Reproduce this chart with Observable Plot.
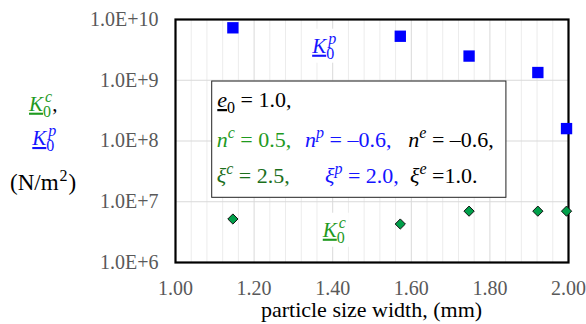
<!DOCTYPE html>
<html><head><meta charset="utf-8">
<script src="https://cdn.jsdelivr.net/npm/d3@7"></script>
<script src="https://cdn.jsdelivr.net/npm/@observablehq/plot@0.6"></script>
<style>
body{margin:0;background:#fff;}
</style></head><body><div id="chart"></div>
<script>
// ---- data ----
const widths = [1.146, 1.572, 1.747, 1.922, 1.995];          // particle size width (mm)
const K0p = [7.3e9, 5.3e9, 2.5e9, 1.34e9, 1.6e8];            // N/m^2 (blue squares)
const K0c = [5.2e6, 4.3e6, 7.0e6, 7.0e6, 7.0e6];             // N/m^2 (green diamonds)
const xTicks = [1.0, 1.2, 1.4, 1.6, 1.8, 2.0];
const xMinor = [1.04,1.08,1.12,1.16,1.24,1.28,1.32,1.36,1.44,1.48,1.52,1.56,1.64,1.68,1.72,1.76,1.84,1.88,1.92,1.96];
const yTicks = [1e6, 1e7, 1e8, 1e9, 1e10];
const yTickLabels = ["1.0E+6", "1.0E+7", "1.0E+8", "1.0E+9", "1.0E+10"];
// annotation anchors (data coordinates)
const boxPos = {x1: 1.0934, x2: 1.842, y1: 10 ** 7.065, y2: 10 ** 8.979};
const labelP = {x: 1.349, y: 10 ** 9.445};
const labelC = {x: 1.376, y: 10 ** 6.416};

const pData = widths.map((w, i) => ({w, v: K0p[i]}));
const cData = widths.map((w, i) => ({w, v: K0c[i]}));

const GREEN = "#1f9a1f", GREEN2 = "#1c6f1c", BLUE = "#1414ff";
const SERIF = "Liberation Serif";

const plot = Plot.plot({
  width: 586, height: 324,
  marginLeft: 175, marginRight: 18, marginTop: 19, marginBottom: 62,
  style: {fontSize: "20px", color: "#595959", background: "white"},
  x: {domain: [1, 2]},
  y: {type: "log", domain: [1e6, 1e10]},
  marks: [
    Plot.ruleX(xMinor, {stroke: "#ececec", strokeWidth: 1}),
    Plot.ruleX(xTicks.slice(1, -1), {stroke: "#d9d9d9", strokeWidth: 1}),
    Plot.ruleY(yTicks.slice(1, -1), {stroke: "#d9d9d9", strokeWidth: 1}),
    Plot.rect([boxPos], {x1: "x1", x2: "x2", y1: "y1", y2: "y2", fill: "white", stroke: "#222", strokeWidth: 1}),
    Plot.axisX({ticks: xTicks, tickFormat: d => d.toFixed(2), tickSize: 0, tickPadding: 18, label: null, fontFamily: SERIF}),
    Plot.axisY({ticks: yTicks, tickFormat: d => yTickLabels[yTicks.indexOf(d)], tickSize: 0, tickPadding: 17, label: null, fontFamily: SERIF}),
    Plot.frame({stroke: "black", strokeWidth: 2.2}),
    Plot.dot(pData, {x: "w", y: "v", symbol: "square", r: 6.4, fill: "#0000ff", stroke: "none"}),
    Plot.dot(cData, {x: "w", y: "v", symbol: "diamond2", r: 4.6, fill: "#00a04a", stroke: "#111", strokeWidth: 1})
  ]
});
document.getElementById("chart").appendChild(plot);
d3.select(plot).selectAll("text").attr("font-family", SERIF).style("font-family", SERIF);
d3.select(plot).attr("font-family", SERIF);

const sx = plot.scale("x"), sy = plot.scale("y");
const svg = d3.select(plot);
const ann = svg.append("g").attr("font-family", SERIF);

function rich(parent, x, y, parts, opts = {}) {
  const t = parent.append("text").attr("x", x).attr("y", y)
    .attr("font-family", SERIF).style("font-family", SERIF)
    .attr("font-size", opts.size || 22).attr("fill", opts.fill || "black")
    .attr("text-anchor", opts.anchor || "start")
    .style("white-space", "pre");
  let cur = 0;
  for (const p of parts) {
    const s = t.append("tspan").text(p.t);
    const target = p.shift === "sub" ? 6 : p.shift === "sup" ? -9 : 0;
    let dy = target - cur;
    if (dy !== 0) { s.attr("dy", dy); cur = target; }
    if (p.dx) s.attr("dx", p.dx);
    if (p.fill) s.attr("fill", p.fill);
    if (p.it) s.attr("font-style", "italic");
    if (p.u) s.attr("text-decoration", "underline");
    if (p.size) s.attr("font-size", p.size);
  }
  return t;
}

function Klabel(parent, x, y, sup, color) {
  const g = parent.append("g");
  const bg = g.append("rect").attr("fill", "white");
  const t = rich(g, x, y, [
    {t: "K", it: true, u: true},
    {t: "0", shift: "sub", size: 16},
    {t: sup, shift: "sup", size: 16, it: true, dx: -6}
  ], {fill: color, size: 21});
  const b = t.node().getBBox();
  bg.attr("x", b.x - 3).attr("y", b.y - 1).attr("width", b.width + 6).attr("height", b.height + 2);
  return g;
}

// in-plot labels
Klabel(ann, sx.apply(labelP.x), sy.apply(labelP.y), "p", BLUE);
Klabel(ann, sx.apply(labelC.x), sy.apply(labelC.y), "c", GREEN);

// legend text inside box
const bx = sx.apply(boxPos.x1), by = sy.apply(boxPos.y2);
rich(ann, bx + 5.6, by + 26, [
  {t: "e", it: true, u: true},
  {t: "0", shift: "sub", size: 16},
  {t: " = 1.0,"}
], {size: 22});
const line2 = [
  {dx: 5, sym: "n", sup: "c", val: " = 0.5,", fill: GREEN},
  {dx: 93.3, sym: "n", sup: "p", val: " = \u20130.6,", fill: BLUE},
  {dx: 196.6, sym: "n", sup: "e", val: " = \u20130.6,", fill: "black"}
];
const line3 = [
  {dx: 5, sym: "\u03be", sup: "c", val: " = 2.5,", fill: GREEN2},
  {dx: 113.3, sym: "\u03be", sup: "p", val: " = 2.0,", fill: BLUE},
  {dx: 198.3, sym: "\u03be", sup: "e", val: " =1.0.", fill: "black"}
];
[[line2, 66], [line3, 102]].forEach(([segs, off]) => {
  segs.forEach(s => rich(ann, bx + s.dx, by + off, [
    {t: s.sym, it: true},
    {t: s.sup, shift: "sup", size: 16, it: true},
    {t: s.val}
  ], {fill: s.fill, size: 22}));
});

// left y-axis title (stacked)
const fx = sx.apply(1);
rich(ann, fx - 146, 110.7, [
  {t: "K", it: true, u: true, fill: GREEN},
  {t: "0", shift: "sub", size: 16, fill: GREEN},
  {t: "c", shift: "sup", size: 16, it: true, dx: -6, fill: GREEN},
  {t: ",", fill: "black"}
], {size: 21});
rich(ann, fx - 142.7, 145, [
  {t: "K", it: true, u: true},
  {t: "0", shift: "sub", size: 16},
  {t: "p", shift: "sup", size: 16, it: true, dx: -6}
], {fill: BLUE, size: 21});
rich(ann, fx - 165, 190, [
  {t: "(N/m"},
  {t: "2", shift: "sup", size: 16, dx: 1},
  {t: ")", dx: 1}
], {size: 23});

// x-axis title
rich(ann, (sx.apply(1) + sx.apply(2)) / 2, 316.7, [{t: "particle size width, (mm)"}], {size: 22, anchor: "middle"});
</script></body></html>
